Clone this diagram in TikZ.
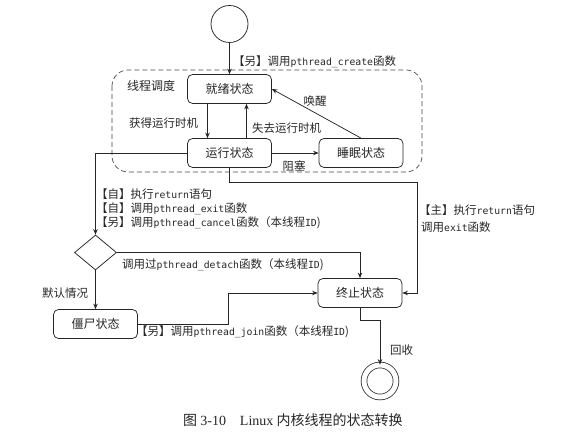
\documentclass[tikz,border=0pt]{standalone}
\usepackage{fontspec}
\usetikzlibrary{arrows.meta,shapes.geometric}
\setmainfont{Noto Sans CJK SC}
\newfontfamily\monofnt{DejaVu Sans Mono}[Scale=0.85]
\newfontfamily\serifcap{Liberation Serif}
\newcommand\mn[1]{{\monofnt #1}}
\definecolor{ink}{HTML}{262626}
\tikzset{
  state/.style={draw=ink, rounded corners=5pt, minimum width=84pt, minimum height=29pt,
    inner sep=0pt, font=\fontsize{12}{14}\selectfont, text=ink, line width=0.75pt},
  lbl/.style={anchor=west, inner sep=0pt, font=\fontsize{11.5}{13}\selectfont, text=ink},
  conn/.style={draw=ink, line width=0.75pt},
  arr/.style={conn, -{Stealth[length=5.5pt,width=4.5pt]}},
}
\begin{document}
\begin{tikzpicture}[x=1pt,y=-1pt]
\useasboundingbox (0,0) rectangle (581,443);

% thread scheduling region
\draw[draw=ink!85, dash pattern=on 5pt off 3pt, line width=0.7pt, rounded corners=16pt]
  (112,70) rectangle (422,172);
\node[lbl, font=\fontsize{12}{14}\selectfont] (sched) at (127,86) {线程调度};

% states
\node[draw=ink, circle, minimum size=37pt, inner sep=0pt, line width=0.75pt] (start) at (229.5,24) {};
\node[state] (ready) at (229.5,89) {就绪状态};
\node[state] (run) at (229.5,153) {运行状态};
\node[state] (sleep) at (361,153) {睡眠状态};
\node[state] (term) at (360,293) {终止状态};
\node[state] (zombie) at (95.5,324) {僵尸状态};
\node[draw=ink, diamond, minimum width=42pt, minimum height=35pt, inner sep=0pt, line width=0.75pt] (dec) at (95.5,252.5) {};
\node[draw=ink, circle, double, double distance=5pt, minimum size=32pt, inner sep=0pt, line width=0.75pt] (final) at (380,381) {};

% helper points for the routed connectors
\coordinate (rb) at (417,182);
\coordinate (jn) at (228,324);
\coordinate (tb) at (360,320);

% transitions
\draw[arr] (start) -- (ready);
\draw[arr] ([xshift=-22pt]ready.south) -- ([xshift=-22pt]run.north);
\draw[arr] ([xshift=17pt]run.north) -- ([xshift=17pt]ready.south);
\draw[arr] (run) -- (sleep);
\draw[arr] (sleep.north) -- (ready.east);
\draw[arr] (run.west) -| (dec.north);
\draw[arr] (run.south) |- (rb) |- (term.east);
\draw[arr] (dec.east) -| (term.north);
\draw[arr] (dec.south) -- (zombie.north);
\draw[arr] (zombie.east) -- (jn) |- (term.west);
\draw[arr] (term.south) -- (tb) -| (final.north);

% labels
\node[lbl] (l1) at (233,62) {【另】调用\mn{pthread\_create}函数};
\node[lbl] (l2) at (129,123) {获得运行时机};
\node[lbl] (l3) at (252,128) {失去运行时机};
\node[lbl, anchor=center] (l4) at (315,101) {唤醒};
\node[lbl, anchor=center] (l5) at (294,166) {阻塞};
\node[lbl] (l6) at (96,194) {【自】执行\mn{return}语句};
\node[lbl] (l7) at (96,208.5) {【自】调用\mn{pthread\_exit}函数};
\node[lbl] (l8) at (96,223) {【另】调用\mn{pthread\_cancel}函数（本线程\mn{ID})};
\node[lbl] (l9) at (419,210) {【主】执行\mn{return}语句};
\node[lbl] (l10) at (421,227) {调用\mn{exit}函数};
\node[lbl] (l11) at (122,265) {调用过\mn{pthread\_detach}函数（本线程\mn{ID})};
\node[lbl] (l12) at (42,293) {默认情况};
\node[lbl] (l13) at (136,332) {【另】调用\mn{pthread\_join}函数（本线程\mn{ID})};
\node[lbl] (l14) at (390,350) {回收};

% caption
\node[lbl, font=\fontsize{14}{16}\selectfont] (cap) at (183,420)
  {图 {\serifcap 3-10}\hspace{1em}{\serifcap Linux} 内核线程的状态转换};
\end{tikzpicture}
\end{document}
